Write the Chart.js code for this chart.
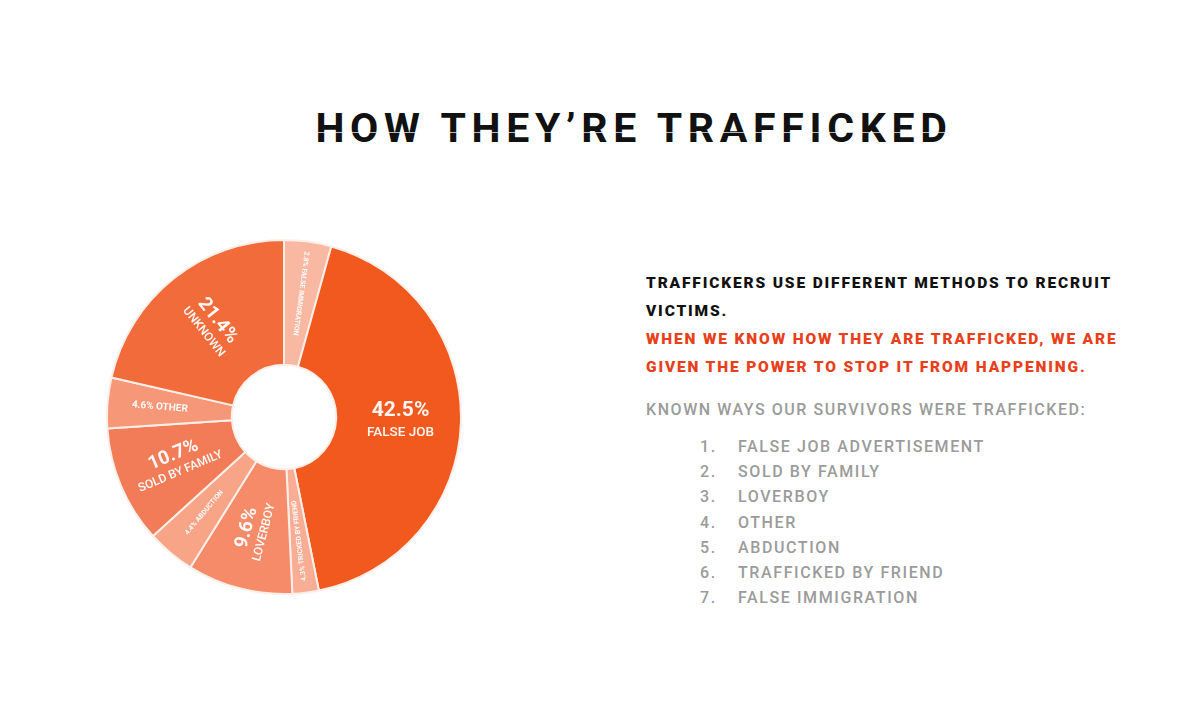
<!DOCTYPE html>
<html>
<head>
<meta charset="utf-8">
<script src="https://cdn.jsdelivr.net/npm/chart.js@4.4.0/dist/chart.umd.min.js"></script>
<style>
  html, body { margin: 0; padding: 0; background: #fff; }
  body { width: 1200px; height: 704px; position: relative; overflow: hidden; font-family: Roboto, "Liberation Sans", sans-serif; }
  #title { position: absolute; left: 3px; width: 1262px; top: 104px; text-align: center; font-size: 41px; font-weight: 700; letter-spacing: 5.7px; color: #111; }
  #title .cut { position: absolute; left: 300px; width: 660px; top: 28px; height: 1px; background: rgba(255,255,255,0.7); }
  #chartBox { position: absolute; left: 106px; top: 239px; width: 356px; height: 356px; }
  #intro { position: absolute; left: 646px; top: 269px; width: 490px; font-size: 15.5px; font-weight: 900; letter-spacing: 1.85px; line-height: 28px; color: #111; }
  #intro .red { color: #e8401a; }
  #known { position: absolute; left: 646px; top: 400px; font-size: 16px; font-weight: 500; letter-spacing: 1.55px; color: #9b9b9b; }
  #ways { position: absolute; left: 700px; top: 434px; margin: 0; padding: 0; list-style: none; font-size: 16px; font-weight: 500; letter-spacing: 1.6px; line-height: 25.2px; color: #9b9b9b; }
  #ways span { display: inline-block; width: 38px; }
</style>
</head>
<body>
<div id="title">HOW THEY’RE TRAFFICKED<div class="cut"></div></div>
<div id="chartBox"><canvas id="chart"></canvas></div>
<div id="intro">TRAFFICKERS USE DIFFERENT METHODS TO RECRUIT VICTIMS.<br><span class="red">WHEN WE KNOW HOW THEY ARE TRAFFICKED, WE ARE GIVEN THE POWER TO STOP IT FROM HAPPENING.</span></div>
<div id="known">KNOWN WAYS OUR SURVIVORS WERE TRAFFICKED:</div>
<ul id="ways"></ul>
<script>
// slices clockwise from 12 o'clock
const categories = ['FALSE IMMIGRATION', 'FALSE JOB', 'TRICKED BY FRIEND', 'LOVERBOY', 'ABDUCTION', 'SOLD BY FAMILY', 'OTHER', 'UNKNOWN'];
const shares = [4.3, 42.5, 2.4, 9.6, 4.4, 10.7, 4.6, 21.4];
const pctLabels = ['2.8%', '42.5%', '4.3%', '9.6%', '4.4%', '10.7%', '4.6%', '21.4%'];
const colors = ['#f9b8a2', '#f1591f', '#f8ad94', '#f58b69', '#f7a487', '#f27c57', '#f69878', '#f16b3b'];
// big two-line labels vs small one-line labels
const bigLabel = [false, true, false, true, false, true, false, true];
const knownWays = ['FALSE JOB ADVERTISEMENT', 'SOLD BY FAMILY', 'LOVERBOY', 'OTHER', 'ABDUCTION', 'TRAFFICKED BY FRIEND', 'FALSE IMMIGRATION'];

document.getElementById('ways').innerHTML = knownWays
  .map((w, i) => `<li><span>${i + 1}.</span>${w}</li>`).join('');

const sliceLabels = {
  id: 'sliceLabels',
  afterDatasetsDraw(chart) {
    const ctx = chart.ctx;
    chart.getDatasetMeta(0).data.forEach((arc, i) => {
      const mid = (arc.startAngle + arc.endAngle) / 2;
      const r = bigLabel[i] ? (arc.innerRadius + arc.outerRadius) / 2 + 2 : (arc.innerRadius + arc.outerRadius) / 2 + 10;
      const x = arc.x + Math.cos(mid) * r;
      const y = arc.y + Math.sin(mid) * r;
      ctx.save();
      ctx.translate(x, y);
      // read from the rim toward the hole, except the big false job label
      if (i !== 1) ctx.rotate(mid + Math.PI);
      ctx.fillStyle = 'rgba(255,255,255,0.95)';
      ctx.textAlign = 'center';
      ctx.textBaseline = 'middle';
      if (bigLabel[i]) {
        const big = i === 1;
        ctx.font = (big ? '700 21px' : '700 19px') + ' Roboto';
        ctx.fillText(pctLabels[i], 0, big ? -10 : -8);
        ctx.font = (big ? '500 13.5px' : '500 12px') + ' Roboto';
        ctx.fillText(categories[i], 0, big ? 11 : 10);
      } else {
        ctx.font = i === 6 ? '700 10px Roboto' : '700 7px Roboto';
        ctx.fillText(pctLabels[i] + ' ' + categories[i], 0, 0);
      }
      ctx.restore();
    });
  }
};

new Chart(document.getElementById('chart'), {
  type: 'doughnut',
  data: {
    labels: categories,
    datasets: [{
      data: shares,
      backgroundColor: colors,
      borderColor: '#fdeee8',
      borderWidth: 2
    }]
  },
  options: {
    responsive: true,
    maintainAspectRatio: false,
    animation: false,
    cutout: '29.5%',
    layout: { padding: 0 },
    plugins: { legend: { display: false }, tooltip: { enabled: false } }
  },
  plugins: [sliceLabels]
});
</script>
</body>
</html>
